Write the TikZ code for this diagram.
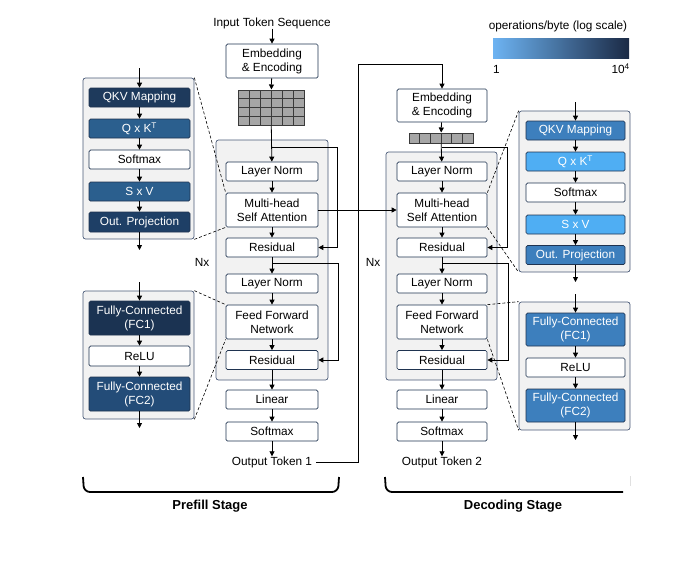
\documentclass[tikz,border=0pt]{standalone}
\usepackage{fontspec}
\setmainfont{Liberation Sans}
\usetikzlibrary{arrows.meta}
\definecolor{bcol}{HTML}{1F3350}
\definecolor{fcol}{HTML}{4A5A78}
\definecolor{fgray}{HTML}{F2F2F2}
\definecolor{dnavy}{HTML}{1E3A5C}
\definecolor{dnavyb}{HTML}{1E3F66}
\definecolor{mblue}{HTML}{2B5F8E}
\definecolor{fcone}{HTML}{1B3352}
\definecolor{fctwo}{HTML}{234C78}
\definecolor{rblue}{HTML}{3D7FBD}
\definecolor{lblue}{HTML}{4FAEF3}
\definecolor{gridgray}{HTML}{A6A6A6}
\definecolor{griddark}{HTML}{3A3A3A}
\definecolor{cbl}{HTML}{6DB3F2}
\definecolor{cbr}{HTML}{1B2A45}
\tikzset{
  txt/.style={font=\fontsize{11.8}{14}\selectfont, inner sep=0},
  bx/.style={draw=bcol, line width=0.7pt, rounded corners=1.5pt, fill=white, inner sep=0,
     align=center, font=\fontsize{11.8}{14}\selectfont, text=black},
  mbx/.style={bx, minimum width=92pt, minimum height=19pt},
  dbx/.style={bx, minimum width=90pt, minimum height=19pt},
  lbx/.style={bx, minimum width=101pt, minimum height=19pt},
  rbx/.style={bx, minimum width=99pt, minimum height=19pt},
  colbx/.style={fill=#1, text=white},
  frm/.style={draw=fcol, fill=fgray, line width=0.7pt, rounded corners=2.5pt, inner sep=0},
  arr/.style={-{Triangle[length=5pt,width=5pt]}, line width=0.8pt},
  ln/.style={line width=0.8pt},
  dsh/.style={dash pattern=on 3pt off 2pt, line width=0.6pt},
  brk/.style={line width=1.8pt, rounded corners=6pt},
}
\begin{document}
\begin{tikzpicture}[x=1pt,y=-1pt]
\useasboundingbox (0,0) rectangle (700,566);

% ---------- frames ----------
\node[frm, minimum width=112pt, minimum height=240pt] (fr1) at (272,260) {};
\node[frm, minimum width=111pt, minimum height=228pt] (fr2) at (441.5,266) {};
\node[frm, minimum width=111pt, minimum height=161pt] (fa1) at (138.5,158.5) {};
\node[frm, minimum width=111pt, minimum height=128pt] (ff1f) at (138.5,355) {};
\node[frm, minimum width=111pt, minimum height=161pt] (fa2) at (574.5,191.5) {};
\node[frm, minimum width=111pt, minimum height=128pt] (ff2f) at (574.5,366) {};

% ---------- prefill column ----------
\node[txt] (in1) at (272,23) {Input Token Sequence};
\node[mbx, minimum height=34pt] (emb1) at (272,61) {Embedding\\\& Encoding};
\node[fill=gridgray, draw=griddark, line width=1pt, minimum width=66pt, minimum height=35pt, inner sep=0] (g1) at (271,107.5) {};
\foreach \i in {1,...,5} \draw[griddark, line width=0.8pt] (238+\i*11,90) -- (238+\i*11,125);
\foreach \j in {1,2,3} \draw[griddark, line width=0.8pt] (238,90+\j*8.75) -- (304,90+\j*8.75);
\node[mbx] (ln1) at (272,171.5) {Layer Norm};
\node[mbx, minimum height=34pt] (mh1) at (272,210) {Multi-head\\Self Attention};
\node[mbx] (r1) at (272,247.5) {Residual};
\node[mbx] (ln2) at (272,283.5) {Layer Norm};
\node[mbx, minimum height=34pt] (ff1) at (272,322) {Feed Forward\\Network};
\node[mbx] (r2) at (272,360) {Residual};
\node[mbx] (lin1) at (272,399.5) {Linear};
\node[mbx] (sm1) at (272,431.5) {Softmax};
\node[txt] (out1) at (272,462) {Output Token 1};
\node[txt] (nx1) at (202,262) {Nx};

\draw[arr] (in1) -- (emb1);
\draw[arr] (emb1) -- (g1);
\draw[arr] (g1) -- (ln1);
\draw[arr] (ln1) -- (mh1);
\draw[arr] (mh1) -- (r1);
\draw[arr] (r1) -- (ln2);
\draw[arr] (ln2) -- (ff1);
\draw[arr] (ff1) -- (r2);
\draw[arr] (r2) -- (lin1);
\draw[arr] (lin1) -- (sm1);
\draw[arr] (sm1) -- (out1);
\coordinate (b1) at (272,147);
\coordinate (b1r) at (337,147);
\draw[arr] (b1) -- (b1r) |- (r1.east);
\coordinate (b2) at (272,263);
\coordinate (b2r) at (338,263);
\draw[arr] (b2) -- (b2r) |- (r2.east);

% ---------- decoding column ----------
\node[dbx, minimum height=33pt] (emb2) at (442,105.5) {Embedding\\\& Encoding};
\node[fill=gridgray, draw=griddark, line width=1pt, minimum width=64pt, minimum height=10pt, inner sep=0] (g2) at (441,138) {};
\foreach \i in {1,...,5} \draw[griddark, line width=0.8pt] (409+\i*10.667,133) -- (409+\i*10.667,143);
\node[dbx] (ln3) at (442,171.5) {Layer Norm};
\node[dbx, minimum height=34pt] (mh2) at (442,210) {Multi-head\\Self Attention};
\node[dbx] (r3) at (442,247.5) {Residual};
\node[dbx] (ln4) at (442,283.5) {Layer Norm};
\node[dbx, minimum height=34pt] (ff2) at (442,322) {Feed Forward\\Network};
\node[dbx] (r4) at (442,360) {Residual};
\node[dbx] (lin2) at (442,399.5) {Linear};
\node[dbx] (sm2) at (442,431.5) {Softmax};
\node[txt] (out2) at (442,462) {Output Token 2};
\node[txt] (nx2) at (373,262) {Nx};

\draw[arr] (emb2) -- (g2);
\draw[arr] (g2) -- (ln3);
\draw[arr] (ln3) -- (mh2);
\draw[arr] (mh2) -- (r3);
\draw[arr] (r3) -- (ln4);
\draw[arr] (ln4) -- (ff2);
\draw[arr] (ff2) -- (r4);
\draw[arr] (r4) -- (lin2);
\draw[arr] (lin2) -- (sm2);
\draw[arr] (sm2) -- (out2);
\coordinate (b3) at (442,147);
\coordinate (b3r) at (507,147);
\draw[arr] (b3) -- (b3r) |- (r3.east);
\coordinate (b4) at (442,263);
\coordinate (b4r) at (508,263);
\draw[arr] (b4) -- (b4r) |- (r4.east);

% cross links
\draw[arr] (mh1.east) -- (mh2.west);
\coordinate (tp) at (358,64);
\draw[arr] ([xshift=4pt]out1.east) -| (tp) -| (emb2.north);

% ---------- left attention panel ----------
\coordinate (ai1) at (139.5,68);
\node[lbx, colbx=dnavy] (qkv1) at (139.5,97.5) {QKV Mapping};
\node[lbx, colbx=mblue] (qk1) at (139.5,128.5) {Q x K\textsuperscript{T}};
\node[lbx] (smx1) at (139.5,159.5) {Softmax};
\node[lbx, colbx=mblue] (sv1) at (139.5,191.5) {S x V};
\node[lbx, colbx=dnavyb, minimum height=20pt] (op1) at (139.5,222) {Out. Projection};
\coordinate (ao1) at (139.5,250);
\draw[arr] (ai1) -- (qkv1);
\draw[arr] (qkv1) -- (qk1);
\draw[arr] (qk1) -- (smx1);
\draw[arr] (smx1) -- (sv1);
\draw[arr] (sv1) -- (op1);
\draw[arr] (op1) -- (ao1);

% ---------- left ffn panel ----------
\coordinate (fi1) at (139.5,282);
\node[lbx, colbx=fcone, minimum height=34pt] (fc1) at (139.5,318) {Fully-Connected\\(FC1)};
\node[lbx, minimum height=20pt] (relu1) at (139.5,356) {ReLU};
\node[lbx, colbx=fctwo, minimum height=34pt] (fc2) at (139.5,394) {Fully-Connected\\(FC2)};
\coordinate (fo1) at (139.5,428);
\draw[arr] (fi1) -- (fc1);
\draw[arr] (fc1) -- (relu1);
\draw[arr] (relu1) -- (fc2);
\draw[arr] (fc2) -- (fo1);

% ---------- right attention panel ----------
\coordinate (ai2) at (575.5,102);
\node[rbx, colbx=rblue] (qkv2) at (575.5,130.5) {QKV Mapping};
\node[rbx, colbx=lblue] (qk2) at (575.5,161.5) {Q x K\textsuperscript{T}};
\node[rbx] (smx2) at (575.5,192.5) {Softmax};
\node[rbx, colbx=lblue] (sv2) at (575.5,224.5) {S x V};
\node[rbx, colbx=rblue] (op2) at (575.5,255) {Out. Projection};
\coordinate (ao2) at (575.5,282);
\draw[arr] (ai2) -- (qkv2);
\draw[arr] (qkv2) -- (qk2);
\draw[arr] (qk2) -- (smx2);
\draw[arr] (smx2) -- (sv2);
\draw[arr] (sv2) -- (op2);
\draw[arr] (op2) -- (ao2);

% ---------- right ffn panel ----------
\coordinate (fi2) at (575.5,294);
\node[rbx, colbx=rblue, minimum height=33pt] (fc3) at (575.5,329.5) {Fully-Connected\\(FC1)};
\node[rbx] (relu2) at (575.5,367.5) {ReLU};
\node[rbx, colbx=rblue, minimum height=33pt] (fc4) at (575.5,405.5) {Fully-Connected\\(FC2)};
\coordinate (fo2) at (575.5,440);
\draw[arr] (fi2) -- (fc3);
\draw[arr] (fc3) -- (relu2);
\draw[arr] (relu2) -- (fc4);
\draw[arr] (fc4) -- (fo2);

% ---------- dashed zoom lines ----------
\draw[dsh] (fa1.north east) -- (mh1.north west);
\draw[dsh] (fa1.south east) -- (mh1.south west);
\draw[dsh] (ff1f.north east) -- (ff1.north west);
\draw[dsh] (ff1f.south east) -- (ff1.south west);
\draw[dsh] (mh2.north east) -- (fa2.north west);
\draw[dsh] (mh2.south east) -- (fa2.south west);
\draw[dsh] (ff2.north east) -- (ff2f.north west);
\draw[dsh] (ff2.south east) -- (ff2f.south west);

% ---------- colour bar ----------
\node[txt] (cbt) at (558,26) {operations/byte (log scale)};
\node[minimum width=136pt, minimum height=20pt, inner sep=0, left color=cbl, right color=cbr] (cb) at (561,48) {};
\node[txt, anchor=west] (cb1) at (493,69) {1};
\node[txt, anchor=east] (cb2) at (630,69) {10\textsuperscript{4}};

% ---------- stage brackets ----------
\draw[brk] (83,477) -- (84,492) -- (338,492) -- (339,477);
\draw[brk] (385,477) -- (386,492) -- (623,492);
\draw[black!12, line width=1pt] (630,476) -- (630,486);
\node[font=\bfseries\fontsize{13}{15}\selectfont, inner sep=0] (ps) at (210,506) {Prefill Stage};
\node[font=\bfseries\fontsize{13}{15}\selectfont, inner sep=0] (ds) at (513,506) {Decoding Stage};
\end{tikzpicture}
\end{document}
